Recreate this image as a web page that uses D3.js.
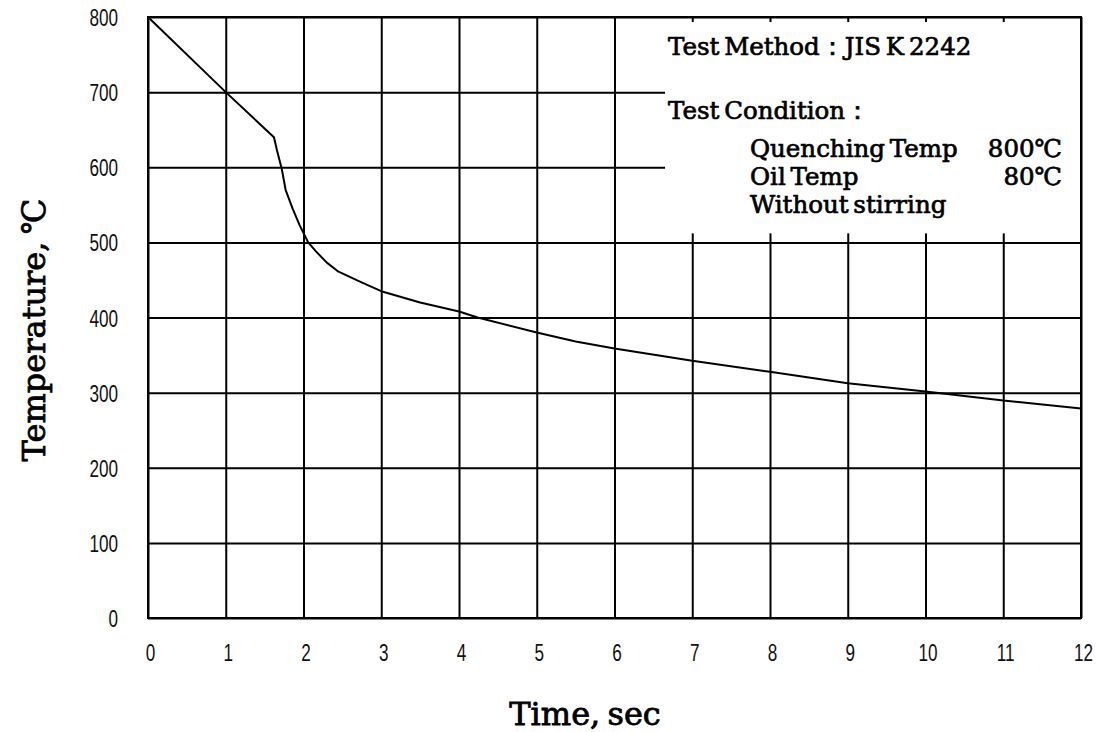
<!DOCTYPE html>
<html>
<head>
<meta charset="utf-8">
<script src="https://cdn.jsdelivr.net/npm/d3@7"></script>
<style>
  html, body { margin: 0; padding: 0; background: #fff; }
  svg { display: block; }
</style>
</head>
<body>
<svg id="chart" width="1096" height="732"></svg>
<script>
// ---- data ----
const timeSec = [0, 1, 1.62, 1.66, 1.72, 1.77, 1.86, 1.95, 2.06, 2.16, 2.3, 2.45, 2.74, 3, 3.5, 4, 4.24, 5, 5.5, 6, 7, 8, 9, 10, 11, 12];
const tempC   = [800, 700, 640, 622, 598, 570, 545, 523, 500, 488, 473, 461, 447, 435, 420, 408, 400, 380, 368, 358.6, 342.5, 327.7, 312.4, 301.4, 289.4, 279];
const xTickValues = [0,1,2,3,4,5,6,7,8,9,10,11,12];
const xTickLabels = ["0","1","2","3","4","5","6","7","8","9","10","11","12"];
const yTickValues = [0,100,200,300,400,500,600,700,800];
const yTickLabels = ["0","100","200","300","400","500","600","700","800"];
const xTitle = "Time, sec";
const yTitle = "Temperature, ℃";
const noteLines = [
  {text: "Test Method：JIS K 2242", indent: 0},
  {text: "Test Condition：", indent: 0},
  {text: "Quenching Temp", indent: 1, value: "800℃"},
  {text: "Oil Temp", indent: 1, value: "80℃"},
  {text: "Without stirring", indent: 1}
];

// ---- layout ----
const svg = d3.select("#chart");
const pL = 148, pR = 1081, pT = 17, pB = 618;
const W = pR - pL, H = pB - pT;
const x = d3.scaleLinear().domain([0, 12]).range([pL, pR]);
const y = d3.scaleLinear().domain([0, 800]).range([pB, pT]);

const sx = 0.70; // horizontal squeeze for narrow tick digits

// grid via axes
const gy = svg.append("g").attr("transform", `translate(${pL},0)`)
  .call(d3.axisLeft(y).tickValues(yTickValues).tickSize(-W).tickPadding(0)
    .tickFormat((d,i) => yTickLabels[i]));
gy.select(".domain").remove();
gy.selectAll(".tick line").attr("stroke", "#000").attr("stroke-width", 2);
gy.selectAll(".tick text")
  .attr("font-family", "'Liberation Sans', Arial, sans-serif")
  .attr("font-size", 24.5).attr("fill", "#111")
  .attr("text-anchor", "end")
  .attr("x", -30 / sx).attr("dy", "0.35em")
  .attr("transform", `scale(${sx},1)`);

const gx = svg.append("g").attr("transform", `translate(0,${pB})`)
  .call(d3.axisBottom(x).tickValues(xTickValues).tickSize(-H).tickPadding(0)
    .tickFormat((d,i) => xTickLabels[i]));
gx.select(".domain").remove();
gx.selectAll(".tick line").attr("stroke", "#000").attr("stroke-width", 2);
gx.selectAll(".tick text")
  .attr("font-family", "'Liberation Sans', Arial, sans-serif")
  .attr("font-size", 24.5).attr("fill", "#111")
  .attr("text-anchor", "middle")
  .attr("x", 2 / sx).attr("y", 43).attr("dy", 0)
  .attr("transform", `scale(${sx},1)`);

// white note box covering grid
const boxX0 = x(6.65), boxY0 = pT + 5, boxY1 = y(500) - 9;
svg.append("rect")
  .attr("x", boxX0).attr("y", boxY0)
  .attr("width", pR - boxX0 - 1).attr("height", boxY1 - boxY0)
  .attr("fill", "#fff");

// frame
svg.append("rect")
  .attr("x", pL).attr("y", pT).attr("width", W).attr("height", H)
  .attr("fill", "none").attr("stroke", "#000").attr("stroke-width", 2);

// curve
const line = d3.line().x((d,i) => x(timeSec[i])).y((d,i) => y(tempC[i])).curve(d3.curveLinear);
svg.append("path")
  .attr("d", line(tempC))
  .attr("fill", "none").attr("stroke", "#000").attr("stroke-width", 2)
  .attr("stroke-linejoin", "round");

// notes
const noteFont = "'DejaVu Serif', 'Liberation Serif', serif";
const baselines = [55, 119, 157, 185, 213];
const notes = svg.append("g").attr("font-family", noteFont).attr("font-size", 24.5).attr("fill", "#000")
  .attr("stroke", "#000").attr("stroke-width", 0.7).attr("word-spacing", -3);
noteLines.forEach((d, i) => {
  notes.append("text")
    .attr("x", d.indent ? 750 : 668).attr("y", baselines[i])
    .text(d.text);
  if (d.value) {
    notes.append("text")
      .attr("x", 1062).attr("y", baselines[i]).attr("text-anchor", "end")
      .text(d.value);
  }
});

// titles
svg.append("text")
  .attr("x", 585).attr("y", 725).attr("text-anchor", "middle")
  .attr("font-family", noteFont).attr("font-size", 32).attr("fill", "#000")
  .attr("stroke", "#000").attr("stroke-width", 0.8).attr("word-spacing", -3)
  .text(xTitle);
svg.append("text")
  .attr("transform", `translate(45,330) rotate(-90)`)
  .attr("text-anchor", "middle")
  .attr("font-family", noteFont).attr("font-size", 32).attr("fill", "#000")
  .attr("stroke", "#000").attr("stroke-width", 0.8).attr("word-spacing", -3)
  .text(yTitle);
</script>
</body>
</html>
